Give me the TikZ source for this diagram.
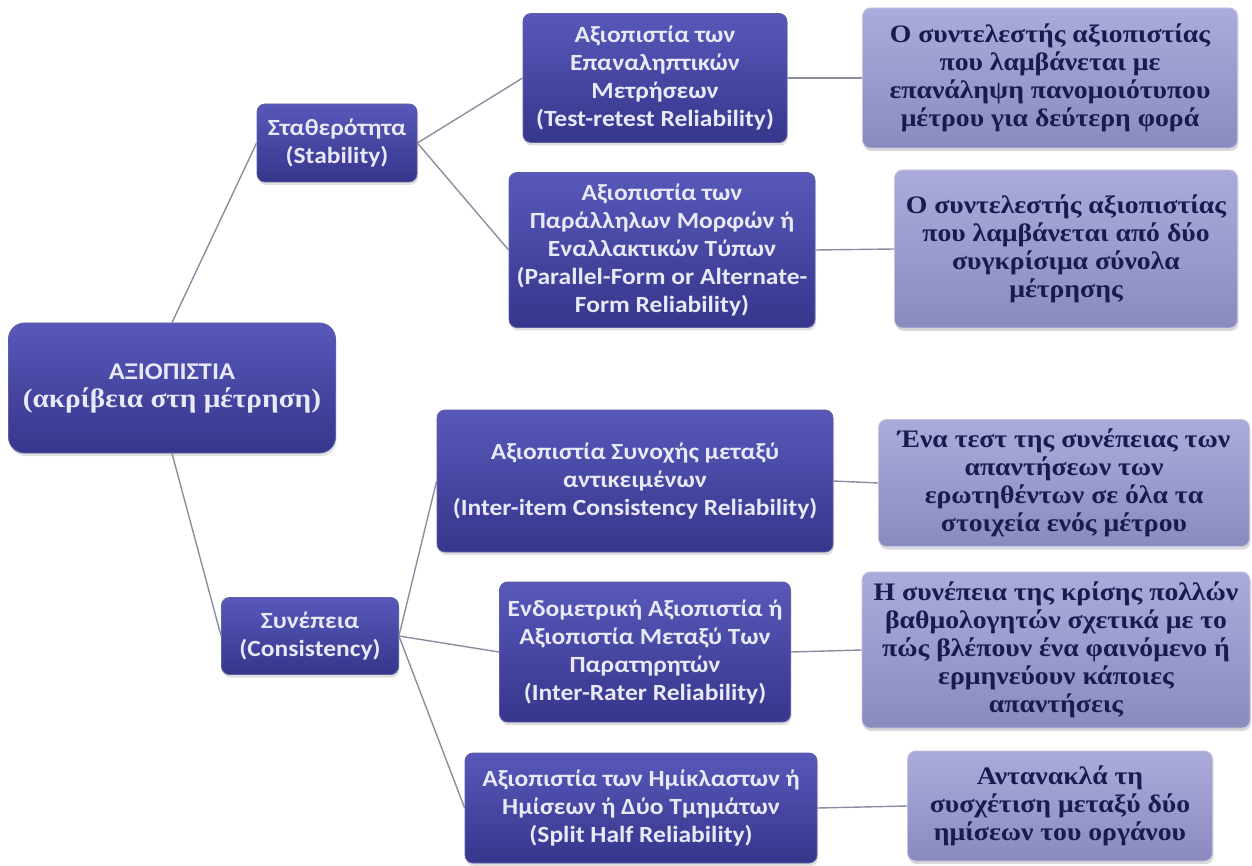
\documentclass[tikz,border=0pt]{standalone}
\usepackage{fontspec}
\newfontfamily\cfont[FakeStretch=1.1]{Carlito}
\newfontfamily\tfont[FakeStretch=1.1]{Liberation Serif}
\usetikzlibrary{shadows}
\definecolor{dtop}{HTML}{5858BA}
\definecolor{dbot}{HTML}{36368C}
\definecolor{dtext}{HTML}{E8E8F6}
\definecolor{ltop}{HTML}{ABABDB}
\definecolor{lbot}{HTML}{8A8ABF}
\definecolor{ltext}{HTML}{1A1A50}
\definecolor{conn}{HTML}{8C8CA0}
\tikzset{
  darkbox/.style={draw=dbot!80!white, line width=0.8pt, rounded corners=8pt, top color=dtop, bottom color=dbot,
     text=dtext, align=center, inner sep=0pt, font=\cfont\bfseries\fontsize{23.2}{28}\selectfont,
     drop shadow={shadow xshift=1pt, shadow yshift=-3pt, opacity=0.25, fill=gray}},
  lightbox/.style={draw=ltop!70!white, line width=0.8pt, rounded corners=8pt, top color=ltop, bottom color=lbot,
     text=ltext, align=center, inner sep=0pt, font=\tfont\bfseries\fontsize{25.2}{28}\selectfont,
     drop shadow={shadow xshift=1pt, shadow yshift=-3pt, opacity=0.3, fill=gray}},
  conline/.style={draw=conn, line width=1.4pt}
}
\begin{document}
\begin{tikzpicture}[x=1pt,y=-1pt]
\useasboundingbox (0,0) rectangle (1252,866);
% root and level 1
\node[darkbox, rounded corners=16pt, minimum width=327pt, minimum height=130pt, font=\cfont\bfseries\fontsize{24}{28}\selectfont] (root) at (172,388) {ΑΞΙΟΠΙΣΤΙΑ\\{\tfont\fontsize{26.6}{28}\selectfont(ακρίβεια στη μέτρηση)}};
\node[darkbox, minimum width=160pt, minimum height=78pt] (stab) at (337,143) {Σταθερότητα\\(Stability)};
\node[darkbox, minimum width=177pt, minimum height=77pt] (cons) at (310,636) {Συνέπεια\\(Consistency)};
% level 2
\node[darkbox, minimum width=264pt, minimum height=129pt] (tr) at (655,78) {Αξιοπιστία των\\Επαναληπτικών\\Μετρήσεων\\(Test-retest Reliability)};
\node[darkbox, minimum width=306pt, minimum height=155pt] (pf) at (662,250) {Αξιοπιστία των\\Παράλληλων Μορφών ή\\Εναλλακτικών Τύπων\\(Parallel-Form or Alternate-\\Form Reliability)};
\node[darkbox, minimum width=396pt, minimum height=142pt] (ii) at (635,481) {Αξιοπιστία Συνοχής μεταξύ\\αντικειμένων\\(Inter-item Consistency Reliability)};
\node[darkbox, minimum width=291pt, minimum height=140pt] (ir) at (645,652) {Ενδομετρική Αξιοπιστία ή\\Αξιοπιστία Μεταξύ Των\\Παρατηρητών\\(Inter-Rater Reliability)};
\node[darkbox, minimum width=352pt, minimum height=110pt] (sh) at (641,808) {Αξιοπιστία των Ημίκλαστων ή\\Ημίσεων ή Δύο Τμημάτων\\(Split Half Reliability)};
% level 3
\node[lightbox, minimum width=375pt, minimum height=140pt] (d1) at (1050,78) {Ο συντελεστής αξιοπιστίας\\που λαμβάνεται με\\επανάληψη πανομοιότυπου\\μέτρου για δεύτερη φορά};
\node[lightbox, minimum width=343pt, minimum height=158pt] (d2) at (1066,249) {Ο συντελεστής αξιοπιστίας\\που λαμβάνεται από δύο\\συγκρίσιμα σύνολα\\μέτρησης};
\node[lightbox, minimum width=371pt, minimum height=127pt] (d3) at (1064,483) {Ένα τεστ της συνέπειας των\\απαντήσεων των\\ερωτηθέντων σε όλα τα\\στοιχεία ενός μέτρου};
\node[lightbox, minimum width=388pt, minimum height=156pt] (d4) at (1056,650) {Η συνέπεια της κρίσης πολλών\\βαθμολογητών σχετικά με το\\πώς βλέπουν ένα φαινόμενο ή\\ερμηνεύουν κάποιες\\απαντήσεις};
\node[lightbox, minimum width=305pt, minimum height=110pt] (d5) at (1060,806) {Αντανακλά τη\\συσχέτιση μεταξύ δύο\\ημίσεων του οργάνου};
% connectors
\draw[conline] (root.north) -- (stab.west);
\draw[conline] (root.south) -- (cons.west);
\draw[conline] (stab.east) -- (tr.west);
\draw[conline] (stab.east) -- (pf.west);
\draw[conline] (cons.east) -- (ii.west);
\draw[conline] (cons.east) -- (ir.west);
\draw[conline] (cons.east) -- (sh.west);
\draw[conline] (tr.east) -- (d1.west);
\draw[conline] (pf.east) -- (d2.west);
\draw[conline] (ii.east) -- (d3.west);
\draw[conline] (ir.east) -- (d4.west);
\draw[conline] (sh.east) -- (d5.west);
\end{tikzpicture}
\end{document}
